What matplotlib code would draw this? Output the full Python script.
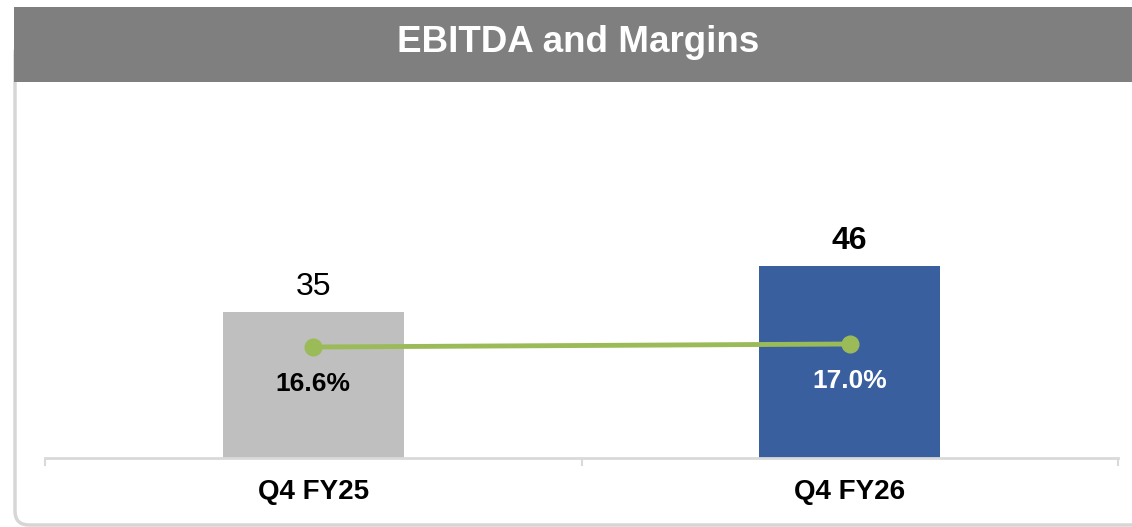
import matplotlib
matplotlib.use('Agg')
import matplotlib.pyplot as plt
from matplotlib.patches import FancyBboxPatch, Rectangle

plt.rcParams['font.family'] = ['Liberation Sans', 'DejaVu Sans']

# data
categories = ['Q4 FY25', 'Q4 FY26']
ebitda = [35, 46]
margin = [16.6, 17.0]
bar_colors = ['#BFBFBF', '#3A5F9F']
margin_label_colors = ['#000000', '#FFFFFF']
value_weights = ['normal', 'bold']

W, H = 1132, 527
fig = plt.figure(figsize=(W / 100, H / 100), dpi=100)

# background panel (pixel coordinates)
bg = fig.add_axes([0, 0, 1, 1])
bg.set_xlim(0, W)
bg.set_ylim(H, 0)
bg.axis('off')
bg.add_patch(FancyBboxPatch((15, 40), W + 40, 485,
                            boxstyle='round,pad=0,rounding_size=14',
                            facecolor='white', edgecolor='#D6D6D6', lw=2.5))
bg.add_patch(Rectangle((14, 7), W - 14, 75, facecolor='#7F7F7F', edgecolor='none'))
bg.text(578, 43, 'EBITDA and Margins', color='white', fontsize=26.5,
        fontweight='bold', ha='center', va='center')

# main chart axes
x0, x1, yb, yt = 45, 1118, 458, 82
ax = fig.add_axes([x0 / W, (H - yb) / H, (x1 - x0) / W, (yb - yt) / H])
ax.patch.set_alpha(0)
pos = list(range(len(categories)))
ax.bar(pos, ebitda, width=0.337, color=bar_colors, zorder=2)
ax.set_xlim(-0.5, 1.5)
ax.set_ylim(0, (yb - yt) / 4.17)
for s in ['top', 'right', 'left']:
    ax.spines[s].set_visible(False)
ax.spines['bottom'].set_color('#D9D9D9')
ax.spines['bottom'].set_linewidth(2)
ax.set_yticks([])
ax.set_xticks(pos)
ax.set_xticklabels(categories, fontsize=20, fontweight='bold')
ax.tick_params(axis='x', which='major', length=0, pad=15)
ax.set_xticks([-0.5, 0.5, 1.5], minor=True)
ax.tick_params(axis='x', which='minor', length=6, width=1.5, color='#D9D9D9')

for p, v, w in zip(pos, ebitda, value_weights):
    ax.annotate(str(v), (p, v), xytext=(0, 18), textcoords='offset points',
                ha='center', va='center', fontsize=23, fontweight=w)

# margin line on secondary axis
ax2 = ax.twinx()
ax2.set_ylim(1.8, 1.8 + (yb - yt) / 7.5)
ax2.axis('off')
ax2.plot(pos, margin, color='#9BBB59', lw=3.5, marker='o', markersize=12, zorder=3)
for p, m, c in zip(pos, margin, margin_label_colors):
    ax2.annotate(f'{m:.1f}%', (p, m), xytext=(-0, -27), textcoords='offset points',
                 ha='center', va='center', fontsize=19, fontweight='bold', color=c)

fig.savefig('out.png', dpi=100)
